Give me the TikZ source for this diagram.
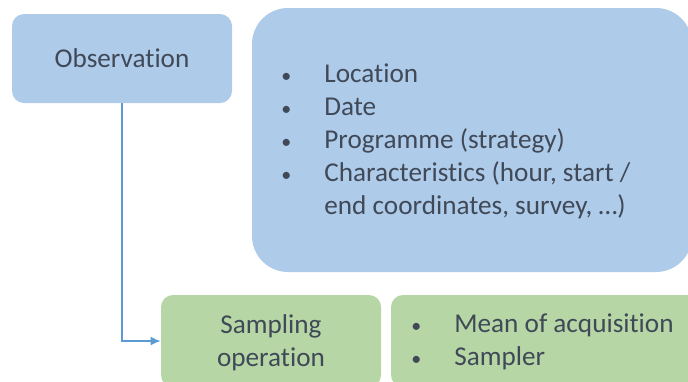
\documentclass[tikz,border=0pt]{standalone}
\usepackage{fontspec}
\setmainfont[Ligatures=NoCommon]{Carlito}
\usetikzlibrary{positioning,arrows.meta}

\definecolor{boxblue}{RGB}{174,203,233}
\definecolor{boxgreen}{RGB}{183,214,165}
\definecolor{textgrey}{RGB}{64,73,87}
\definecolor{lineblue}{RGB}{91,155,213}

\newcommand{\blt}{{\fontsize{10}{16.5}\selectfont •}}

\begin{document}
\begin{tikzpicture}
		[
		x=0.5pt, y=-0.5pt, font=\fontsize{13.6}{16.5}\selectfont, >={Latex[length=5pt,width=4.5pt]},
		%Kastenstile
		bluebox/.style={fill=boxblue, text=textgrey, rounded corners=6pt, inner sep=0pt, align=center},
		greenbox/.style={fill=boxgreen, text=textgrey, rounded corners=6pt, inner sep=0pt, align=center},
		itemlist/.style={text=textgrey, inner sep=0pt, anchor=west}
		]
		
		%Rahmen
		\useasboundingbox (0,0) rectangle (688,381);
		\clip (0,0) rectangle (688,381);
		
		%Observation
		\node[bluebox, minimum width=110pt, minimum height=44.5pt] (obs) at (122,58.5) {Observation};
		
		%grosser Kasten rechts
		\node[bluebox, rounded corners=18pt, minimum width=220pt, minimum height=132pt] (obsinfo) at (472,140) {};
		\node[itemlist] (obslist) at (281,142) {%
			\begin{tabular}{@{}p{21.5pt}@{}l@{}}
				\blt & Location\\
				\blt & Date\\
				\blt & Programme (strategy)\\
				\blt & Characteristics (hour, start /\\
				     & end coordinates, survey, …)
			\end{tabular}};
		
		%Sampling operation
		\node[greenbox, minimum width=110pt, minimum height=46pt] (samp) at (271,341) {};
		\node[text=textgrey, align=center, inner sep=0pt] (samptext) at (271,342.5) {Sampling\\operation};
		
		%Kasten mit Liste
		\node[greenbox, minimum width=159.5pt, minimum height=46pt] (sampinfo) at (550.5,341) {};
		\node[itemlist] (samplist) at (411,342.5) {%
			\begin{tabular}{@{}p{21.5pt}@{}l@{}}
				\blt & Mean of acquisition\\
				\blt & Sampler
			\end{tabular}};
		
		%Verbindung
		\draw[->, lineblue, line width=0.75pt] (obs.south) |- (samp.west);
		
	\end{tikzpicture}
\end{document}
